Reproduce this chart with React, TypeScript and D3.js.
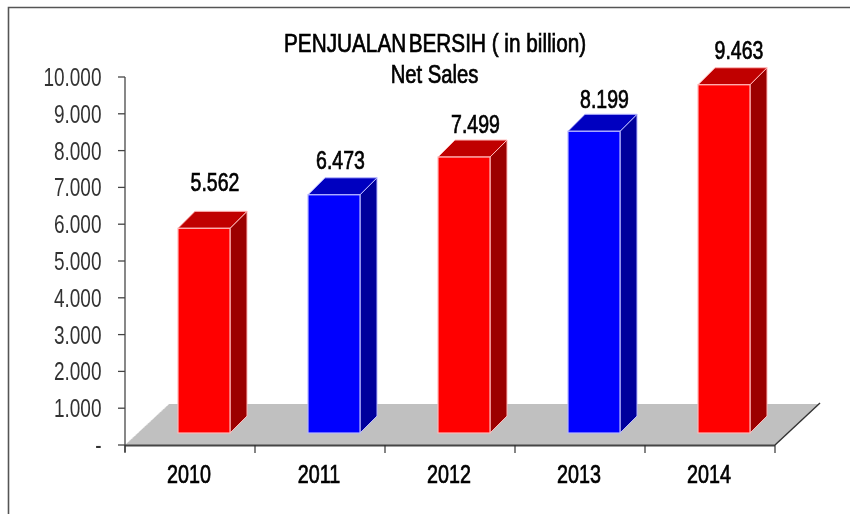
import React from "react";
import * as d3 from "d3";

const years = ["2010", "2011", "2012", "2013", "2014"];
const sales = [5562, 6473, 7499, 8199, 9463];
const valueLabels = ["5.562", "6.473", "7.499", "8.199", "9.463"];
const labelDx = [37, 32.5, 37.5, 36.5, 41];
const labelDy = [-37, -26, -24, -23, -26];
const yTicks = [0, 1000, 2000, 3000, 4000, 5000, 6000, 7000, 8000, 9000, 10000];
const yLabels = ["-", "1.000", "2.000", "3.000", "4.000", "5.000", "6.000", "7.000", "8.000", "9.000", "10.000"];
const palette = [
  { front: "#ff0000", top: "#c00000", side: "#9c0000", edge: "#ffb8b8" },
  { front: "#0000ff", top: "#0000c0", side: "#00009c", edge: "#b8b8ff" },
];

const FONT = "'Liberation Sans', Arial, sans-serif";
const y = d3.scaleLinear().domain([0, 10000]).range([445, 77]);
const x = d3.scaleBand().domain(years).range([125, 775]);
const depth = 17;
const floorDepth = 44;
const floorLift = 12;
const barW = 52;

function T({ x: tx, y: ty, sx = 0.78, size = 25, bold = false, anchor = "middle", fill = "#000", children }: any) {
  return (
    <text
      transform={`translate(${tx},${ty}) scale(${sx},1)`}
      textAnchor={anchor}
      fontFamily={FONT}
      fontSize={size}
      fill={fill}
      stroke={bold ? fill : "none"}
      strokeWidth={bold ? 0.7 : 0}
    >
      {children}
    </text>
  );
}

export default function App() {
  const x0 = x.range()[0];
  const x1 = x.range()[1];
  const y0 = y(0);
  const poly = (p: [number, number][]) => p.map((d) => d.join(",")).join(" ");
  return (
    <svg
      width={850}
      height={514}
      style={{ position: "absolute", left: 0, top: 0, background: "#fff" }}
    >
      <defs>
        <filter id="soft" filterUnits="userSpaceOnUse" x="0" y="0" width="850" height="514">
          <feGaussianBlur stdDeviation="0.5" />
        </filter>
      </defs>
      <g filter="url(#soft)">
        <path d="M8.5,514V7.5H850" fill="none" stroke="#555" strokeWidth={1.6} />

        {/* floor */}
        <polygon
          points={poly([
            [x0, y0],
            [x0 + floorDepth, y0 - floorDepth + 3],
            [x1 + floorDepth, y0 - floorDepth + 3],
            [x1, y0],
          ])}
          fill="#c0c0c0"
        />
        <line x1={x0 + 1} y1={y0 - 1} x2={x0 + floorDepth} y2={y0 - floorDepth + 3} stroke="#e8e8e8" strokeWidth={1} strokeDasharray="2 2" />
        <line x1={x1} y1={y0} x2={x1 + floorDepth + 1} y2={y0 - floorDepth + 2} stroke="#333" strokeWidth={1.4} />

        {/* axes */}
        <line x1={x0} y1={y(10000)} x2={x0} y2={y0 + 7} stroke="#555" strokeWidth={1.4} />
        <line x1={x0} y1={y0 + 0.5} x2={x1} y2={y0 + 0.5} stroke="#444" strokeWidth={2} />
        {yTicks.map((t, i) => (
          <g key={t}>
            <line x1={x0 - 7} x2={x0} y1={y(t)} y2={y(t)} stroke="#444" strokeWidth={1.3} />
            <T x={101.5} y={y(t) + 9} anchor="end" sx={0.76} fill="#333">
              {yLabels[i]}
            </T>
          </g>
        ))}
        {[...years.map((d) => x(d)!), x1].map((v) => (
          <line key={v} x1={v} x2={v} y1={y0} y2={y0 + 8} stroke="#333" strokeWidth={1.2} />
        ))}
        {years.map((d) => (
          <T key={d} x={x(d)! + 64} y={483} bold sx={0.79}>
            {d}
          </T>
        ))}

        {/* bars */}
        {years.map((d, i) => {
          const c = palette[i % 2];
          const l = x(d)! + 53;
          const r = l + barW;
          const b = y0 - floorLift;
          const t = y(sales[i]) - floorLift;
          return (
            <g key={d}>
              <polygon points={poly([[r, t], [r + depth, t - depth], [r + depth, b - depth], [r, b]])} fill={c.side} stroke={c.edge} strokeWidth={1} />
              <polygon points={poly([[l, t], [l + depth, t - depth], [r + depth, t - depth], [r, t]])} fill={c.top} stroke={c.edge} strokeWidth={1} />
              <rect x={l} y={t} width={barW} height={b - t} fill={c.front} stroke={c.edge} strokeWidth={1.2} />
              <T x={l + labelDx[i]} y={t + labelDy[i]} bold sx={0.78}>
                {valueLabels[i]}
              </T>
            </g>
          );
        })}

        {/* title */}
        <T x={284} y={52} bold sx={0.83} anchor="start">
          <tspan wordSpacing={-4}>PENJUALAN BERSIH</tspan> ( in billion)
        </T>
        <T x={434.5} y={83} bold sx={0.81}>
          Net Sales
        </T>
      </g>
    </svg>
  );
}
